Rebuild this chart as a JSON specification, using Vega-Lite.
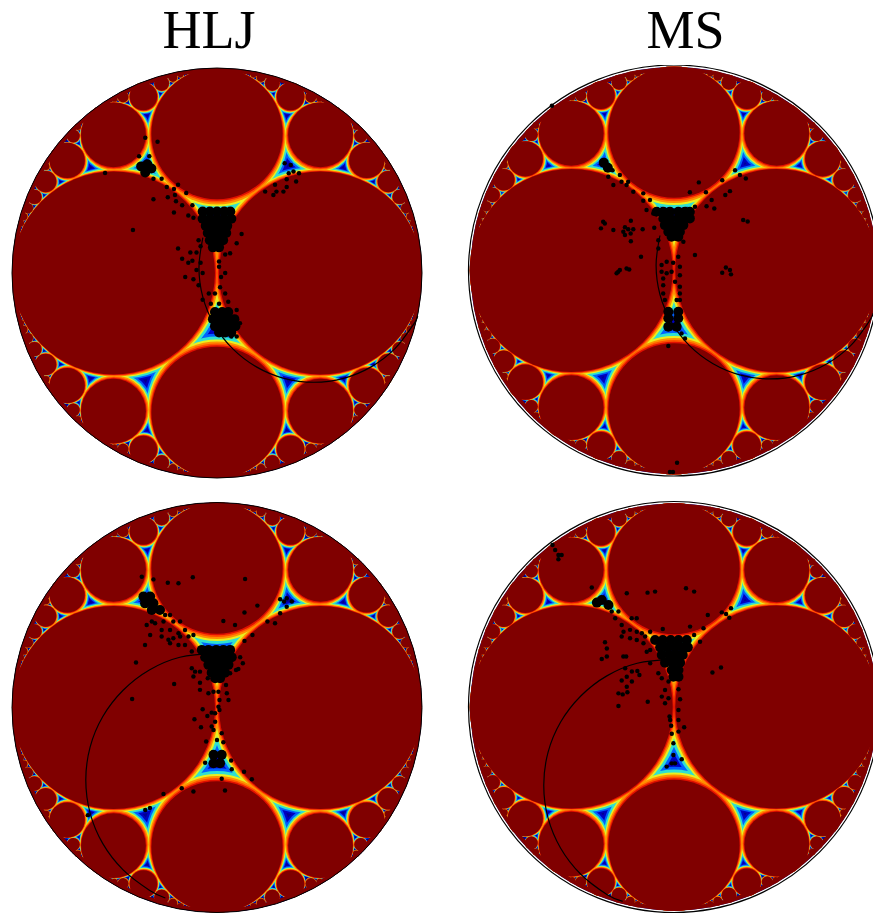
{"$schema":"https://vega.github.io/schema/vega-lite/v6.json","background":"white","padding":{"left":9,"top":5,"right":0,"bottom":0},"config":{"view":{"stroke":null}},"columns":2,"spacing":{"column":41,"row":18},
"datasets":{"c":[{"x":0,"y":0}],
"a1":[{"i":1,"x":-0.069,"y":0.172},{"i":2,"x":-0.088,"y":0.027},{"i":3,"x":-0.069,"y":-0.118},{"i":4,"x":-0.013,"y":-0.253},{"i":5,"x":0.076,"y":-0.369},{"i":6,"x":0.192,"y":-0.458},{"i":7,"x":0.327,"y":-0.514},{"i":8,"x":0.472,"y":-0.533},{"i":9,"x":0.617,"y":-0.514},{"i":10,"x":0.752,"y":-0.458},{"i":11,"x":0.868,"y":-0.369},{"i":12,"x":0.957,"y":-0.253},{"i":13,"x":0.979,"y":-0.21}],
"a3":[{"i":1,"x":0.002,"y":0.265},{"i":2,"x":-0.181,"y":0.245},{"i":3,"x":-0.33,"y":0.183},{"i":4,"x":-0.458,"y":0.084},{"i":5,"x":-0.557,"y":-0.044},{"i":6,"x":-0.619,"y":-0.193},{"i":7,"x":-0.64,"y":-0.354},{"i":8,"x":-0.619,"y":-0.515},{"i":9,"x":-0.557,"y":-0.664},{"i":10,"x":-0.458,"y":-0.792},{"i":11,"x":-0.33,"y":-0.891},{"i":12,"x":-0.252,"y":-0.929}],
"a4":[{"i":1,"x":0.002,"y":0.235},{"i":2,"x":-0.181,"y":0.215},{"i":3,"x":-0.33,"y":0.153},{"i":4,"x":-0.458,"y":0.054},{"i":5,"x":-0.557,"y":-0.074},{"i":6,"x":-0.619,"y":-0.223},{"i":7,"x":-0.64,"y":-0.384},{"i":8,"x":-0.619,"y":-0.545},{"i":9,"x":-0.557,"y":-0.694},{"i":10,"x":-0.458,"y":-0.822},{"i":11,"x":-0.33,"y":-0.921},{"i":12,"x":-0.252,"y":-0.955}],
"balls":[
{"b":1,"x":0.469,"y":0,"r":0.531},{"b":1,"x":-0.469,"y":0,"r":0.531},{"b":1,"x":0,"y":0.639,"r":0.361},{"b":1,"x":0,"y":-0.639,"r":0.361},
{"b":1,"x":0.489,"y":0.653,"r":0.184},{"b":1,"x":-0.489,"y":0.653,"r":0.184},{"b":1,"x":0.489,"y":-0.653,"r":0.184},{"b":1,"x":-0.489,"y":-0.653,"r":0.184},
{"b":1,"x":0.719,"y":0.539,"r":0.102},{"b":1,"x":-0.719,"y":0.539,"r":0.102},{"b":1,"x":0.719,"y":-0.539,"r":0.102},{"b":1,"x":-0.719,"y":-0.539,"r":0.102},
{"b":1,"x":0.354,"y":0.849,"r":0.08},{"b":1,"x":-0.354,"y":0.849,"r":0.08},{"b":1,"x":0.354,"y":-0.849,"r":0.08},{"b":1,"x":-0.354,"y":-0.849,"r":0.08},
{"b":2,"x":0.476,"y":0,"r":0.524},{"b":2,"x":-0.476,"y":0,"r":0.524},{"b":2,"x":0,"y":0.648,"r":0.352},{"b":2,"x":0,"y":-0.648,"r":0.352},
{"b":2,"x":0.493,"y":0.657,"r":0.179},{"b":2,"x":-0.493,"y":0.657,"r":0.179},{"b":2,"x":0.493,"y":-0.657,"r":0.179},{"b":2,"x":-0.493,"y":-0.657,"r":0.179},
{"b":2,"x":0.722,"y":0.541,"r":0.098},{"b":2,"x":-0.722,"y":0.541,"r":0.098},{"b":2,"x":0.722,"y":-0.541,"r":0.098},{"b":2,"x":-0.722,"y":-0.541,"r":0.098},
{"b":2,"x":0.355,"y":0.852,"r":0.077},{"b":2,"x":-0.355,"y":0.852,"r":0.077},{"b":2,"x":0.355,"y":-0.852,"r":0.077},{"b":2,"x":-0.355,"y":-0.852,"r":0.077},
{"b":2,"x":0.829,"y":0.442,"r":0.06},{"b":2,"x":-0.829,"y":0.442,"r":0.06},{"b":2,"x":0.829,"y":-0.442,"r":0.06},{"b":2,"x":-0.829,"y":-0.442,"r":0.06},
{"b":2,"x":0.268,"y":0.92,"r":0.042},{"b":2,"x":-0.268,"y":0.92,"r":0.042},{"b":2,"x":0.268,"y":-0.92,"r":0.042},{"b":2,"x":-0.268,"y":-0.92,"r":0.042},
{"b":2,"x":0.886,"y":0.369,"r":0.04},{"b":2,"x":-0.886,"y":0.369,"r":0.04},{"b":2,"x":0.886,"y":-0.369,"r":0.04},{"b":2,"x":-0.886,"y":-0.369,"r":0.04},
{"b":2,"x":0.698,"y":0.665,"r":0.036},{"b":2,"x":-0.698,"y":0.665,"r":0.036},{"b":2,"x":0.698,"y":-0.665,"r":0.036},{"b":2,"x":-0.698,"y":-0.665,"r":0.036},
{"b":3,"x":0.483,"y":0,"r":0.517},{"b":3,"x":-0.483,"y":0,"r":0.517},{"b":3,"x":0,"y":0.655,"r":0.345},{"b":3,"x":0,"y":-0.655,"r":0.345},
{"b":3,"x":0.496,"y":0.661,"r":0.174},{"b":3,"x":-0.496,"y":0.661,"r":0.174},{"b":3,"x":0.496,"y":-0.661,"r":0.174},{"b":3,"x":-0.496,"y":-0.661,"r":0.174},
{"b":3,"x":0.724,"y":0.543,"r":0.095},{"b":3,"x":-0.724,"y":0.543,"r":0.095},{"b":3,"x":0.724,"y":-0.543,"r":0.095},{"b":3,"x":-0.724,"y":-0.543,"r":0.095},
{"b":3,"x":0.356,"y":0.854,"r":0.075},{"b":3,"x":-0.356,"y":0.854,"r":0.075},{"b":3,"x":0.356,"y":-0.854,"r":0.075},{"b":3,"x":-0.356,"y":-0.854,"r":0.075},
{"b":3,"x":0.831,"y":0.443,"r":0.058},{"b":3,"x":-0.831,"y":0.443,"r":0.058},{"b":3,"x":0.831,"y":-0.443,"r":0.058},{"b":3,"x":-0.831,"y":-0.443,"r":0.058},
{"b":3,"x":0.269,"y":0.921,"r":0.04},{"b":3,"x":-0.269,"y":0.921,"r":0.04},{"b":3,"x":0.269,"y":-0.921,"r":0.04},{"b":3,"x":-0.269,"y":-0.921,"r":0.04},
{"b":3,"x":0.887,"y":0.37,"r":0.039},{"b":3,"x":-0.887,"y":0.37,"r":0.039},{"b":3,"x":0.887,"y":-0.37,"r":0.039},{"b":3,"x":-0.887,"y":-0.37,"r":0.039},
{"b":3,"x":0.699,"y":0.666,"r":0.035},{"b":3,"x":-0.699,"y":0.666,"r":0.035},{"b":3,"x":0.699,"y":-0.666,"r":0.035},{"b":3,"x":-0.699,"y":-0.666,"r":0.035},
{"b":4,"x":0.49,"y":0,"r":0.51},{"b":4,"x":-0.49,"y":0,"r":0.51},{"b":4,"x":0,"y":0.662,"r":0.338},{"b":4,"x":0,"y":-0.662,"r":0.338},
{"b":4,"x":0.498,"y":0.664,"r":0.17},{"b":4,"x":-0.498,"y":0.664,"r":0.17},{"b":4,"x":0.498,"y":-0.664,"r":0.17},{"b":4,"x":-0.498,"y":-0.664,"r":0.17},
{"b":4,"x":0.726,"y":0.544,"r":0.093},{"b":4,"x":-0.726,"y":0.544,"r":0.093},{"b":4,"x":0.726,"y":-0.544,"r":0.093},{"b":4,"x":-0.726,"y":-0.544,"r":0.093},
{"b":4,"x":0.357,"y":0.856,"r":0.073},{"b":4,"x":-0.357,"y":0.856,"r":0.073},{"b":4,"x":0.357,"y":-0.856,"r":0.073},{"b":4,"x":-0.357,"y":-0.856,"r":0.073},
{"b":5,"x":0.495,"y":0,"r":0.505},{"b":5,"x":-0.495,"y":0,"r":0.505},{"b":5,"x":0,"y":0.667,"r":0.333},{"b":5,"x":0,"y":-0.667,"r":0.333},
{"b":5,"x":0.5,"y":0.667,"r":0.167},{"b":5,"x":-0.5,"y":0.667,"r":0.167},{"b":5,"x":0.5,"y":-0.667,"r":0.167},{"b":5,"x":-0.5,"y":-0.667,"r":0.167},
{"b":5,"x":0.727,"y":0.545,"r":0.091},{"b":5,"x":-0.727,"y":0.545,"r":0.091},{"b":5,"x":0.727,"y":-0.545,"r":0.091},{"b":5,"x":-0.727,"y":-0.545,"r":0.091},
{"b":5,"x":0.357,"y":0.857,"r":0.071},{"b":5,"x":-0.357,"y":0.857,"r":0.071},{"b":5,"x":0.357,"y":-0.857,"r":0.071},{"b":5,"x":-0.357,"y":-0.857,"r":0.071},
{"b":5,"x":0.833,"y":0.444,"r":0.056},{"b":5,"x":-0.833,"y":0.444,"r":0.056},{"b":5,"x":0.833,"y":-0.444,"r":0.056},{"b":5,"x":-0.833,"y":-0.444,"r":0.056},
{"b":5,"x":0.269,"y":0.923,"r":0.038},{"b":5,"x":-0.269,"y":0.923,"r":0.038},{"b":5,"x":0.269,"y":-0.923,"r":0.038},{"b":5,"x":-0.269,"y":-0.923,"r":0.038},
{"b":5,"x":0.889,"y":0.37,"r":0.037},{"b":5,"x":-0.889,"y":0.37,"r":0.037},{"b":5,"x":0.889,"y":-0.37,"r":0.037},{"b":5,"x":-0.889,"y":-0.37,"r":0.037},
{"b":5,"x":0.7,"y":0.667,"r":0.033},{"b":5,"x":-0.7,"y":0.667,"r":0.033},{"b":5,"x":0.7,"y":-0.667,"r":0.033},{"b":5,"x":-0.7,"y":-0.667,"r":0.033},
{"b":5,"x":0.457,"y":0.857,"r":0.029},{"b":5,"x":-0.457,"y":0.857,"r":0.029},{"b":5,"x":0.457,"y":-0.857,"r":0.029},{"b":5,"x":-0.457,"y":-0.857,"r":0.029},
{"b":5,"x":0.921,"y":0.316,"r":0.026},{"b":5,"x":-0.921,"y":0.316,"r":0.026},{"b":5,"x":0.921,"y":-0.316,"r":0.026},{"b":5,"x":-0.921,"y":-0.316,"r":0.026},
{"b":5,"x":0.214,"y":0.952,"r":0.024},{"b":5,"x":-0.214,"y":0.952,"r":0.024},{"b":5,"x":0.214,"y":-0.952,"r":0.024},{"b":5,"x":-0.214,"y":-0.952,"r":0.024},
{"b":5,"x":0.941,"y":0.275,"r":0.02},{"b":5,"x":-0.941,"y":0.275,"r":0.02},{"b":5,"x":0.941,"y":-0.275,"r":0.02},{"b":5,"x":-0.941,"y":-0.275,"r":0.02},
{"b":5,"x":0.833,"y":0.519,"r":0.019},{"b":5,"x":-0.833,"y":0.519,"r":0.019},{"b":5,"x":0.833,"y":-0.519,"r":0.019},{"b":5,"x":-0.833,"y":-0.519,"r":0.019},
{"b":5,"x":0.678,"y":0.712,"r":0.017},{"b":5,"x":-0.678,"y":0.712,"r":0.017},{"b":5,"x":0.678,"y":-0.712,"r":0.017},{"b":5,"x":-0.678,"y":-0.712,"r":0.017},
{"b":5,"x":0.177,"y":0.968,"r":0.016},{"b":5,"x":-0.177,"y":0.968,"r":0.016},{"b":5,"x":0.177,"y":-0.968,"r":0.016},{"b":5,"x":-0.177,"y":-0.968,"r":0.016},
{"b":5,"x":0.5,"y":0.848,"r":0.015},{"b":5,"x":-0.5,"y":0.848,"r":0.015},{"b":5,"x":0.5,"y":-0.848,"r":0.015},{"b":5,"x":-0.5,"y":-0.848,"r":0.015},
{"b":5,"x":0.954,"y":0.242,"r":0.015},{"b":5,"x":-0.954,"y":0.242,"r":0.015},{"b":5,"x":0.954,"y":-0.242,"r":0.015},{"b":5,"x":-0.954,"y":-0.242,"r":0.015},
{"b":6,"x":0.499,"y":0,"r":0.501},{"b":6,"x":-0.499,"y":0,"r":0.501},{"b":6,"x":0,"y":0.672,"r":0.328},{"b":6,"x":0,"y":-0.672,"r":0.328},
{"b":6,"x":0.502,"y":0.669,"r":0.163},{"b":6,"x":-0.502,"y":0.669,"r":0.163},{"b":6,"x":0.502,"y":-0.669,"r":0.163},{"b":6,"x":-0.502,"y":-0.669,"r":0.163},
{"b":6,"x":0.729,"y":0.547,"r":0.089},{"b":6,"x":-0.729,"y":0.547,"r":0.089},{"b":6,"x":0.729,"y":-0.547,"r":0.089},{"b":6,"x":-0.729,"y":-0.547,"r":0.089},
{"b":6,"x":0.358,"y":0.859,"r":0.07},{"b":6,"x":-0.358,"y":0.859,"r":0.07},{"b":6,"x":0.358,"y":-0.859,"r":0.07},{"b":6,"x":-0.358,"y":-0.859,"r":0.07},
{"b":7,"x":0.502,"y":0,"r":0.498},{"b":7,"x":-0.502,"y":0,"r":0.498},{"b":7,"x":0,"y":0.676,"r":0.324},{"b":7,"x":0,"y":-0.676,"r":0.324},
{"b":7,"x":0.504,"y":0.672,"r":0.161},{"b":7,"x":-0.504,"y":0.672,"r":0.161},{"b":7,"x":0.504,"y":-0.672,"r":0.161},{"b":7,"x":-0.504,"y":-0.672,"r":0.161},
{"b":7,"x":0.73,"y":0.548,"r":0.087},{"b":7,"x":-0.73,"y":0.548,"r":0.087},{"b":7,"x":0.73,"y":-0.548,"r":0.087},{"b":7,"x":-0.73,"y":-0.548,"r":0.087},
{"b":7,"x":0.358,"y":0.86,"r":0.069},{"b":7,"x":-0.358,"y":0.86,"r":0.069},{"b":7,"x":0.358,"y":-0.86,"r":0.069},{"b":7,"x":-0.358,"y":-0.86,"r":0.069},
{"b":7,"x":0.835,"y":0.446,"r":0.053},{"b":7,"x":-0.835,"y":0.446,"r":0.053},{"b":7,"x":0.835,"y":-0.446,"r":0.053},{"b":7,"x":-0.835,"y":-0.446,"r":0.053},
{"b":7,"x":0.27,"y":0.925,"r":0.037},{"b":7,"x":-0.27,"y":0.925,"r":0.037},{"b":7,"x":0.27,"y":-0.925,"r":0.037},{"b":7,"x":-0.27,"y":-0.925,"r":0.037},
{"b":7,"x":0.89,"y":0.371,"r":0.036},{"b":7,"x":-0.89,"y":0.371,"r":0.036},{"b":7,"x":0.89,"y":-0.371,"r":0.036},{"b":7,"x":-0.89,"y":-0.371,"r":0.036},
{"b":7,"x":0.701,"y":0.668,"r":0.032},{"b":7,"x":-0.701,"y":0.668,"r":0.032},{"b":7,"x":0.701,"y":-0.668,"r":0.032},{"b":7,"x":-0.701,"y":-0.668,"r":0.032},
{"b":8,"x":0.505,"y":0,"r":0.495},{"b":8,"x":-0.505,"y":0,"r":0.495},{"b":8,"x":0,"y":0.68,"r":0.32},{"b":8,"x":0,"y":-0.68,"r":0.32},
{"b":8,"x":0.505,"y":0.674,"r":0.158},{"b":8,"x":-0.505,"y":0.674,"r":0.158},{"b":8,"x":0.505,"y":-0.674,"r":0.158},{"b":8,"x":-0.505,"y":-0.674,"r":0.158},
{"b":8,"x":0.731,"y":0.549,"r":0.086},{"b":8,"x":-0.731,"y":0.549,"r":0.086},{"b":8,"x":0.731,"y":-0.549,"r":0.086},{"b":8,"x":-0.731,"y":-0.549,"r":0.086},
{"b":8,"x":0.359,"y":0.861,"r":0.067},{"b":8,"x":-0.359,"y":0.861,"r":0.067},{"b":8,"x":0.359,"y":-0.861,"r":0.067},{"b":8,"x":-0.359,"y":-0.861,"r":0.067},
{"b":8,"x":0.836,"y":0.446,"r":0.052},{"b":8,"x":-0.836,"y":0.446,"r":0.052},{"b":8,"x":0.836,"y":-0.446,"r":0.052},{"b":8,"x":-0.836,"y":-0.446,"r":0.052},
{"b":8,"x":0.27,"y":0.925,"r":0.036},{"b":8,"x":-0.27,"y":0.925,"r":0.036},{"b":8,"x":0.27,"y":-0.925,"r":0.036},{"b":8,"x":-0.27,"y":-0.925,"r":0.036},
{"b":8,"x":0.891,"y":0.371,"r":0.035},{"b":8,"x":-0.891,"y":0.371,"r":0.035},{"b":8,"x":0.891,"y":-0.371,"r":0.035},{"b":8,"x":-0.891,"y":-0.371,"r":0.035},
{"b":8,"x":0.701,"y":0.668,"r":0.031},{"b":8,"x":-0.701,"y":0.668,"r":0.031},{"b":8,"x":0.701,"y":-0.668,"r":0.031},{"b":8,"x":-0.701,"y":-0.668,"r":0.031},
{"b":8,"x":0.458,"y":0.859,"r":0.027},{"b":8,"x":-0.458,"y":0.859,"r":0.027},{"b":8,"x":0.458,"y":-0.859,"r":0.027},{"b":8,"x":-0.458,"y":-0.859,"r":0.027},
{"b":8,"x":0.922,"y":0.316,"r":0.025},{"b":8,"x":-0.922,"y":0.316,"r":0.025},{"b":8,"x":0.922,"y":-0.316,"r":0.025},{"b":8,"x":-0.922,"y":-0.316,"r":0.025},
{"b":8,"x":0.215,"y":0.954,"r":0.022},{"b":8,"x":-0.215,"y":0.954,"r":0.022},{"b":8,"x":0.215,"y":-0.954,"r":0.022},{"b":8,"x":-0.215,"y":-0.954,"r":0.022},
{"b":8,"x":0.942,"y":0.275,"r":0.018},{"b":8,"x":-0.942,"y":0.275,"r":0.018},{"b":8,"x":0.942,"y":-0.275,"r":0.018},{"b":8,"x":-0.942,"y":-0.275,"r":0.018},
{"b":8,"x":0.834,"y":0.519,"r":0.017},{"b":8,"x":-0.834,"y":0.519,"r":0.017},{"b":8,"x":0.834,"y":-0.519,"r":0.017},{"b":8,"x":-0.834,"y":-0.519,"r":0.017},
{"b":8,"x":0.679,"y":0.713,"r":0.016},{"b":8,"x":-0.679,"y":0.713,"r":0.016},{"b":8,"x":0.679,"y":-0.713,"r":0.016},{"b":8,"x":-0.679,"y":-0.713,"r":0.016},
{"b":8,"x":0.178,"y":0.969,"r":0.015},{"b":8,"x":-0.178,"y":0.969,"r":0.015},{"b":8,"x":0.178,"y":-0.969,"r":0.015},{"b":8,"x":-0.178,"y":-0.969,"r":0.015},
{"b":8,"x":0.5,"y":0.849,"r":0.014},{"b":8,"x":-0.5,"y":0.849,"r":0.014},{"b":8,"x":0.5,"y":-0.849,"r":0.014},{"b":8,"x":-0.5,"y":-0.849,"r":0.014},
{"b":8,"x":0.955,"y":0.243,"r":0.014},{"b":8,"x":-0.955,"y":0.243,"r":0.014},{"b":8,"x":0.955,"y":-0.243,"r":0.014},{"b":8,"x":-0.955,"y":-0.243,"r":0.014}],
"g1":[{"x":-0.07,"y":0.3},{"x":-0.035,"y":0.3},{"x":0,"y":0.3},{"x":0.035,"y":0.3},{"x":0.065,"y":0.3},{"x":-0.07,"y":0.265},{"x":-0.035,"y":0.265},{"x":0,"y":0.265},{"x":0.035,"y":0.265},{"x":0.07,"y":0.265},{"x":-0.055,"y":0.23},{"x":-0.02,"y":0.23},{"x":0.015,"y":0.23},{"x":0.05,"y":0.23},{"x":-0.045,"y":0.195},{"x":-0.01,"y":0.195},{"x":0.025,"y":0.195},{"x":0.045,"y":0.195},{"x":-0.035,"y":0.16},{"x":0,"y":0.16},{"x":0.03,"y":0.16},{"x":-0.02,"y":0.125},{"x":0.01,"y":0.125},{"x":-0.01,"y":-0.19},{"x":0.025,"y":-0.19},{"x":0.055,"y":-0.19},{"x":-0.02,"y":-0.225},{"x":0.015,"y":-0.225},{"x":0.05,"y":-0.225},{"x":0.085,"y":-0.225},{"x":-0.01,"y":-0.26},{"x":0.025,"y":-0.26},{"x":0.06,"y":-0.26},{"x":0.09,"y":-0.26},{"x":0.01,"y":-0.29},{"x":0.04,"y":-0.29},{"x":0.07,"y":-0.29},{"x":-0.37,"y":0.52},{"x":-0.34,"y":0.53},{"x":-0.32,"y":0.51},{"x":-0.35,"y":0.49}],
"d1":[{"x":-0.09,"y":0.16},{"x":-0.08,"y":0.13},{"x":-0.1,"y":0.1},{"x":-0.13,"y":0.1},{"x":-0.12,"y":0.06},{"x":-0.08,"y":0.05},{"x":-0.14,"y":0.05},{"x":-0.1,"y":0.015},{"x":-0.07,"y":0},{"x":-0.115,"y":-0.03},{"x":-0.09,"y":-0.06},{"x":-0.04,"y":-0.1},{"x":-0.07,"y":-0.13},{"x":-0.03,"y":-0.15},{"x":0.01,"y":0.03},{"x":0.02,"y":-0.02},{"x":0.04,"y":0},{"x":0.015,"y":-0.07},{"x":0.04,"y":-0.1},{"x":-0.01,"y":-0.1},{"x":0.055,"y":-0.14},{"x":0.01,"y":-0.15},{"x":0.064,"y":0.096},{"x":0.04,"y":0.09},{"x":0.096,"y":0.145},{"x":0.12,"y":0.19},{"x":0.01,"y":0.056},{"x":0,"y":0.13},{"x":-0.27,"y":0.46},{"x":-0.245,"y":0.42},{"x":-0.21,"y":0.41},{"x":-0.31,"y":0.36},{"x":-0.24,"y":0.37},{"x":-0.205,"y":0.38},{"x":-0.19,"y":0.43},{"x":-0.15,"y":0.39},{"x":-0.2,"y":0.35},{"x":-0.17,"y":0.33},{"x":-0.21,"y":0.295},{"x":-0.14,"y":0.28},{"x":-0.12,"y":0.33},{"x":-0.115,"y":0.27},{"x":-0.19,"y":0.12},{"x":-0.17,"y":0.07},{"x":-0.155,"y":-0.02},{"x":-0.41,"y":0.21},{"x":-0.38,"y":0.57},{"x":-0.33,"y":0.57},{"x":-0.35,"y":0.66},{"x":-0.29,"y":0.64},{"x":-0.31,"y":0.46},{"x":0.33,"y":0.535},{"x":0.36,"y":0.527},{"x":0.373,"y":0.495},{"x":0.4,"y":0.487},{"x":0.35,"y":0.487},{"x":0.386,"y":0.446},{"x":0.34,"y":0.42},{"x":0.283,"y":0.43},{"x":0.324,"y":0.397},{"x":0.275,"y":0.38},{"x":0.235,"y":0.397},{"x":0.29,"y":0.397},{"x":0.34,"y":0.457},{"x":0.096,"y":-0.18},{"x":0.112,"y":-0.245},{"x":0.096,"y":-0.31},{"x":0.07,"y":-0.31},{"x":-0.546,"y":0.488}],
"g2":[{"x":-0.085,"y":0.289},{"x":-0.053,"y":0.289},{"x":-0.02,"y":0.289},{"x":0.021,"y":0.289},{"x":0.054,"y":0.289},{"x":0.078,"y":0.289},{"x":-0.053,"y":0.256},{"x":-0.02,"y":0.256},{"x":0.021,"y":0.256},{"x":0.054,"y":0.256},{"x":0.078,"y":0.256},{"x":-0.045,"y":0.223},{"x":-0.012,"y":0.223},{"x":0.021,"y":0.223},{"x":0.046,"y":0.223},{"x":-0.028,"y":0.19},{"x":0.005,"y":0.19},{"x":0.029,"y":0.19},{"x":-0.012,"y":0.166},{"x":0.021,"y":0.166},{"x":-0.028,"y":-0.203},{"x":0.021,"y":-0.203},{"x":-0.028,"y":-0.235},{"x":0.021,"y":-0.235},{"x":-0.028,"y":-0.276},{"x":0.013,"y":-0.276},{"x":-0.345,"y":0.53},{"x":-0.325,"y":0.505}],
"d2":[{"x":-0.151,"y":0.379},{"x":-0.2,"y":0.387},{"x":-0.233,"y":0.42},{"x":-0.258,"y":0.436},{"x":-0.225,"y":0.436},{"x":-0.266,"y":0.469},{"x":-0.302,"y":0.493},{"x":-0.323,"y":0.461},{"x":-0.298,"y":0.42},{"x":-0.151,"y":0.343},{"x":-0.118,"y":0.346},{"x":-0.135,"y":0.297},{"x":-0.102,"y":0.28},{"x":-0.077,"y":0.149},{"x":-0.077,"y":0.108},{"x":-0.061,"y":0.027},{"x":-0.061,"y":-0.006},{"x":-0.053,"y":-0.039},{"x":-0.053,"y":-0.072},{"x":-0.053,"y":-0.113},{"x":-0.045,"y":-0.145},{"x":-0.036,"y":-0.014},{"x":-0.012,"y":-0.006},{"x":0.005,"y":-0.055},{"x":0.029,"y":0.018},{"x":0.029,"y":-0.023},{"x":0.029,"y":-0.08},{"x":0.029,"y":-0.113},{"x":0.021,"y":0.068},{"x":0.046,"y":0.141},{"x":-0.036,"y":0.043},{"x":-0.004,"y":0.038},{"x":0.029,"y":-0.145},{"x":0.013,"y":-0.145},{"x":0.103,"y":0.076},{"x":-0.028,"y":-0.371},{"x":0.054,"y":-0.334},{"x":0.037,"y":-0.309},{"x":-0.162,"y":0.068},{"x":-0.348,"y":0.24},{"x":-0.34,"y":0.231},{"x":-0.359,"y":0.207},{"x":-0.298,"y":0.199},{"x":-0.212,"y":0.244},{"x":-0.241,"y":0.212},{"x":-0.225,"y":0.203},{"x":-0.249,"y":0.19},{"x":-0.2,"y":0.203},{"x":-0.154,"y":0.203},{"x":-0.213,"y":0.182},{"x":-0.241,"y":0.174},{"x":-0.212,"y":0.144},{"x":-0.097,"y":0.21},{"x":-0.282,"y":-0.014},{"x":-0.266,"y":0.002},{"x":-0.274,"y":-0.006},{"x":-0.233,"y":0.01},{"x":-0.22,"y":0.005},{"x":0.16,"y":0.316},{"x":0.185,"y":0.346},{"x":0.198,"y":0.305},{"x":0.103,"y":0.313},{"x":0.078,"y":0.384},{"x":0.157,"y":0.384},{"x":0.122,"y":0.433},{"x":0.252,"y":0.371},{"x":0.275,"y":0.39},{"x":0.237,"y":0.444},{"x":0.34,"y":0.248},{"x":0.362,"y":0.241},{"x":0.255,"y":0.015},{"x":0.275,"y":0.002},{"x":0.237,"y":-0.011},{"x":0.28,"y":-0.019},{"x":0.3,"y":0.493},{"x":0.324,"y":0.469},{"x":0.353,"y":0.452},{"x":-0.02,"y":-0.99},{"x":-0.005,"y":-0.99},{"x":0.015,"y":-0.945},{"x":-0.6,"y":0.81}],
"g3":[{"x":-0.074,"y":0.281},{"x":-0.042,"y":0.281},{"x":-0.004,"y":0.281},{"x":0.031,"y":0.281},{"x":0.064,"y":0.281},{"x":-0.058,"y":0.245},{"x":-0.021,"y":0.245},{"x":0.015,"y":0.245},{"x":0.048,"y":0.245},{"x":0.072,"y":0.245},{"x":-0.042,"y":0.208},{"x":-0.009,"y":0.208},{"x":0.023,"y":0.208},{"x":0.056,"y":0.208},{"x":-0.026,"y":0.17},{"x":0.007,"y":0.17},{"x":0.039,"y":0.17},{"x":-0.009,"y":0.143},{"x":0.015,"y":0.143},{"x":-0.017,"y":-0.231},{"x":0.023,"y":-0.231},{"x":-0.017,"y":-0.272},{"x":0.015,"y":-0.272},{"x":-0.359,"y":0.541},{"x":-0.326,"y":0.541},{"x":-0.351,"y":0.508},{"x":-0.31,"y":0.508},{"x":-0.318,"y":0.476},{"x":-0.278,"y":0.476}],
"d3":[{"x":-0.253,"y":0.451},{"x":-0.229,"y":0.451},{"x":-0.261,"y":0.419},{"x":-0.213,"y":0.419},{"x":-0.18,"y":0.419},{"x":-0.318,"y":0.419},{"x":-0.343,"y":0.403},{"x":-0.302,"y":0.411},{"x":-0.27,"y":0.378},{"x":-0.229,"y":0.378},{"x":-0.188,"y":0.362},{"x":-0.156,"y":0.378},{"x":-0.139,"y":0.346},{"x":-0.115,"y":0.354},{"x":-0.27,"y":0.346},{"x":-0.237,"y":0.33},{"x":-0.213,"y":0.338},{"x":-0.18,"y":0.346},{"x":-0.326,"y":0.354},{"x":-0.351,"y":0.305},{"x":-0.229,"y":0.313},{"x":-0.188,"y":0.305},{"x":-0.156,"y":0.305},{"x":-0.123,"y":0.273},{"x":-0.367,"y":0.638},{"x":-0.31,"y":0.625},{"x":-0.24,"y":0.609},{"x":-0.188,"y":0.606},{"x":-0.118,"y":0.635},{"x":0.137,"y":0.627},{"x":0.197,"y":0.497},{"x":0.134,"y":0.463},{"x":0.031,"y":0.422},{"x":0.088,"y":0.403},{"x":0.246,"y":0.419},{"x":0.283,"y":0.411},{"x":0.173,"y":0.354},{"x":0.134,"y":0.325},{"x":0.113,"y":0.245},{"x":0.126,"y":0.216},{"x":0.093,"y":0.183},{"x":0.104,"y":0.188},{"x":0.064,"y":0.167},{"x":0.308,"y":0.528},{"x":0.34,"y":0.533},{"x":0.365,"y":0.517},{"x":0.34,"y":0.492},{"x":0.308,"y":0.46},{"x":0.327,"y":0.517},{"x":-0.123,"y":0.191},{"x":-0.107,"y":0.175},{"x":-0.083,"y":0.175},{"x":-0.115,"y":0.151},{"x":-0.045,"y":0.143},{"x":-0.209,"y":0.115},{"x":-0.395,"y":0.219},{"x":-0.414,"y":0.042},{"x":-0.083,"y":0.121},{"x":-0.083,"y":0.086},{"x":-0.042,"y":0.069},{"x":-0.017,"y":0.077},{"x":0.007,"y":0.077},{"x":0.044,"y":0.11},{"x":0.048,"y":0.069},{"x":0.056,"y":0.037},{"x":0.012,"y":0.037},{"x":0.007,"y":0.004},{"x":0.012,"y":-0.012},{"x":-0.07,"y":-0.009},{"x":-0.026,"y":-0.025},{"x":-0.047,"y":-0.041},{"x":-0.009,"y":-0.028},{"x":-0.11,"y":-0.057},{"x":-0.009,"y":-0.069},{"x":-0.078,"y":-0.096},{"x":-0.026,"y":-0.093},{"x":-0.017,"y":-0.11},{"x":0.023,"y":-0.126},{"x":-0.053,"y":-0.166},{"x":0.031,"y":-0.17},{"x":0,"y":-0.158},{"x":-0.058,"y":-0.269},{"x":0.069,"y":-0.259},{"x":0.072,"y":-0.301},{"x":0.132,"y":-0.313},{"x":0.023,"y":-0.348},{"x":0.17,"y":-0.35},{"x":-0.172,"y":-0.394},{"x":-0.261,"y":-0.422},{"x":-0.115,"y":-0.41},{"x":0.039,"y":-0.405},{"x":-0.327,"y":-0.49},{"x":-0.35,"y":-0.5},{"x":-0.63,"y":-0.525}],
"g4":[{"x":-0.093,"y":0.329},{"x":-0.055,"y":0.329},{"x":-0.016,"y":0.329},{"x":0.022,"y":0.329},{"x":0.063,"y":0.329},{"x":-0.068,"y":0.293},{"x":-0.032,"y":0.293},{"x":0.005,"y":0.293},{"x":0.043,"y":0.293},{"x":0.068,"y":0.293},{"x":-0.06,"y":0.256},{"x":-0.022,"y":0.256},{"x":0.014,"y":0.256},{"x":0.043,"y":0.256},{"x":-0.044,"y":0.218},{"x":-0.006,"y":0.218},{"x":0.03,"y":0.218},{"x":-0.011,"y":0.182},{"x":0.022,"y":0.182},{"x":-0.003,"y":0.149},{"x":0.022,"y":0.149},{"x":-0.355,"y":0.526},{"x":-0.322,"y":0.501},{"x":-0.379,"y":0.513}],
"d4":[{"x":-0.003,"y":-0.236},{"x":-0.011,"y":-0.277},{"x":0.038,"y":-0.257},{"x":-0.036,"y":-0.293},{"x":0.005,"y":-0.277},{"x":-0.306,"y":0.469},{"x":-0.273,"y":0.469},{"x":-0.289,"y":0.436},{"x":-0.257,"y":0.403},{"x":-0.208,"y":0.436},{"x":-0.183,"y":0.436},{"x":-0.248,"y":0.37},{"x":-0.216,"y":0.379},{"x":-0.257,"y":0.346},{"x":-0.183,"y":0.37},{"x":-0.158,"y":0.362},{"x":-0.183,"y":0.329},{"x":-0.15,"y":0.313},{"x":-0.142,"y":0.346},{"x":-0.216,"y":0.338},{"x":-0.117,"y":0.37},{"x":-0.134,"y":0.272},{"x":-0.117,"y":0.28},{"x":-0.404,"y":0.587},{"x":-0.232,"y":0.559},{"x":-0.13,"y":0.562},{"x":-0.093,"y":0.567},{"x":0.059,"y":0.583},{"x":0.099,"y":0.567},{"x":0.166,"y":0.452},{"x":0.235,"y":0.465},{"x":0.256,"y":0.457},{"x":0.272,"y":0.439},{"x":0.28,"y":0.485},{"x":0.145,"y":0.387},{"x":0.079,"y":0.395},{"x":-0.055,"y":0.383},{"x":0.099,"y":0.354},{"x":0.128,"y":0.321},{"x":0.231,"y":0.194},{"x":0.189,"y":0.169},{"x":-0.339,"y":0.318},{"x":-0.33,"y":0.288},{"x":-0.355,"y":0.236},{"x":-0.33,"y":0.248},{"x":-0.249,"y":0.248},{"x":-0.235,"y":0.248},{"x":-0.117,"y":0.215},{"x":-0.24,"y":0.19},{"x":-0.207,"y":0.174},{"x":-0.18,"y":0.177},{"x":-0.17,"y":0.157},{"x":-0.232,"y":0.149},{"x":-0.257,"y":0.13},{"x":-0.207,"y":0.125},{"x":-0.232,"y":0.1},{"x":-0.273,"y":0.067},{"x":-0.252,"y":0.062},{"x":-0.229,"y":0.072},{"x":-0.273,"y":0.005},{"x":-0.129,"y":0.026},{"x":-0.077,"y":0.166},{"x":-0.06,"y":0.141},{"x":-0.027,"y":0.125},{"x":-0.044,"y":0.084},{"x":-0.06,"y":0.051},{"x":-0.027,"y":0.043},{"x":-0.044,"y":0.018},{"x":0.022,"y":0.087},{"x":0.03,"y":0.038},{"x":0.022,"y":-0.015},{"x":-0.022,"y":-0.047},{"x":-0.019,"y":-0.064},{"x":0.022,"y":-0.064},{"x":-0.011,"y":-0.132},{"x":-0.014,"y":-0.092},{"x":0.05,"y":-0.1},{"x":0.022,"y":-0.121},{"x":-0.003,"y":-0.178},{"x":-0.597,"y":0.796},{"x":-0.584,"y":0.772},{"x":-0.568,"y":0.747},{"x":-0.552,"y":0.747},{"x":-0.568,"y":0.726}]},
"concat":[
{"width":416,"height":416,"title":{"text":"HLJ","font":"Liberation Serif","fontSize":54,"fontWeight":"normal","color":"black","anchor":"middle","baseline":"alphabetic","dx":-8,"offset":-37},
"encoding":{"x":{"field":"x","type":"quantitative","scale":{"domain":[-1.0146,1.0146]},"axis":null},"y":{"field":"y","type":"quantitative","scale":{"domain":[-1.0146,1.0146]},"axis":null}},
"layer":[
{"data":{"name":"c"},"mark":{"type":"point","filled":true,"opacity":1,"color":"#000090","size":168100,"clip":true}},
{"data":{"name":"balls"},"mark":{"type":"point","filled":true,"opacity":1,"clip":true},"encoding":{"size":{"field":"r","type":"quantitative","scale":{"type":"pow","exponent":2,"domain":[0,1],"range":[0,168100]},"legend":null},"color":{"field":"b","type":"ordinal","scale":{"domain":[1,2,3,4,5,6,7,8],"range":["#0000c0","#0060ff","#30e0d0","#e8f020","#ff9000","#ff5000","#e01000","#800000"]},"legend":null}}},
{"data":{"name":"c"},"mark":{"type":"point","filled":false,"opacity":1,"color":"#800000","strokeWidth":4,"size":164836,"clip":true}},
{"data":{"name":"a1"},"mark":{"type":"line","color":"black","strokeWidth":1.2,"interpolate":"cardinal","clip":true},"encoding":{"order":{"field":"i","type":"quantitative"}}},
{"data":{"name":"d1"},"mark":{"type":"point","filled":true,"opacity":1,"color":"black","size":20,"clip":true}},
{"data":{"name":"g1"},"mark":{"type":"point","filled":true,"opacity":1,"color":"black","size":100,"clip":true}},
{"data":{"name":"c"},"mark":{"type":"point","filled":false,"opacity":1,"color":"black","strokeWidth":1,"size":168100,"clip":true}}]},
{"width":407,"height":416,"title":{"text":"MS","font":"Liberation Serif","fontSize":54,"fontWeight":"normal","color":"black","anchor":"middle","baseline":"alphabetic","dx":16,"offset":-37},
"encoding":{"x":{"field":"x","type":"quantitative","scale":{"domain":[-1.0221,0.9779]},"axis":null},"y":{"field":"y","type":"quantitative","scale":{"domain":[-1.0344,1.0098]},"axis":null}},
"layer":[
{"data":{"name":"c"},"mark":{"type":"point","filled":true,"opacity":1,"color":"#000090","size":165649,"clip":true}},
{"data":{"name":"balls"},"mark":{"type":"point","filled":true,"opacity":1,"clip":true},"encoding":{"size":{"field":"r","type":"quantitative","scale":{"type":"pow","exponent":2,"domain":[0,1],"range":[0,165649]},"legend":null},"color":{"field":"b","type":"ordinal","scale":{"domain":[1,2,3,4,5,6,7,8],"range":["#0000c0","#0060ff","#30e0d0","#e8f020","#ff9000","#ff5000","#e01000","#800000"]},"legend":null}}},
{"data":{"name":"c"},"mark":{"type":"point","filled":false,"opacity":1,"color":"#800000","strokeWidth":4,"size":162409,"clip":true}},
{"data":{"name":"a1"},"mark":{"type":"line","color":"black","strokeWidth":1.2,"interpolate":"cardinal","clip":true},"encoding":{"order":{"field":"i","type":"quantitative"}}},
{"data":{"name":"d2"},"mark":{"type":"point","filled":true,"opacity":1,"color":"black","size":20,"clip":true}},
{"data":{"name":"g2"},"mark":{"type":"point","filled":true,"opacity":1,"color":"black","size":100,"clip":true}},
{"data":{"name":"c"},"mark":{"type":"point","filled":false,"opacity":1,"color":"black","strokeWidth":1.2,"size":168921,"clip":true}}]},
{"width":416,"height":415,
"encoding":{"x":{"field":"x","type":"quantitative","scale":{"domain":[-1.0146,1.0146]},"axis":null},"y":{"field":"y","type":"quantitative","scale":{"domain":[-1.0073,1.0171]},"axis":null}},
"layer":[
{"data":{"name":"c"},"mark":{"type":"point","filled":true,"opacity":1,"color":"#000090","size":168100,"clip":true}},
{"data":{"name":"balls"},"mark":{"type":"point","filled":true,"opacity":1,"clip":true},"encoding":{"size":{"field":"r","type":"quantitative","scale":{"type":"pow","exponent":2,"domain":[0,1],"range":[0,168100]},"legend":null},"color":{"field":"b","type":"ordinal","scale":{"domain":[1,2,3,4,5,6,7,8],"range":["#0000c0","#0060ff","#30e0d0","#e8f020","#ff9000","#ff5000","#e01000","#800000"]},"legend":null}}},
{"data":{"name":"c"},"mark":{"type":"point","filled":false,"opacity":1,"color":"#800000","strokeWidth":4,"size":164836,"clip":true}},
{"data":{"name":"a3"},"mark":{"type":"line","color":"black","strokeWidth":1.2,"interpolate":"cardinal","clip":true},"encoding":{"order":{"field":"i","type":"quantitative"}}},
{"data":{"name":"d3"},"mark":{"type":"point","filled":true,"opacity":1,"color":"black","size":20,"clip":true}},
{"data":{"name":"g3"},"mark":{"type":"point","filled":true,"opacity":1,"color":"black","size":100,"clip":true}},
{"data":{"name":"c"},"mark":{"type":"point","filled":false,"opacity":1,"color":"black","strokeWidth":1,"size":168100,"clip":true}}]},
{"width":407,"height":415,
"encoding":{"x":{"field":"x","type":"quantitative","scale":{"domain":[-1.0221,0.9779]},"axis":null},"y":{"field":"y","type":"quantitative","scale":{"domain":[-1.0172,1.0221]},"axis":null}},
"layer":[
{"data":{"name":"c"},"mark":{"type":"point","filled":true,"opacity":1,"color":"#000090","size":165649,"clip":true}},
{"data":{"name":"balls"},"mark":{"type":"point","filled":true,"opacity":1,"clip":true},"encoding":{"size":{"field":"r","type":"quantitative","scale":{"type":"pow","exponent":2,"domain":[0,1],"range":[0,165649]},"legend":null},"color":{"field":"b","type":"ordinal","scale":{"domain":[1,2,3,4,5,6,7,8],"range":["#0000c0","#0060ff","#30e0d0","#e8f020","#ff9000","#ff5000","#e01000","#800000"]},"legend":null}}},
{"data":{"name":"c"},"mark":{"type":"point","filled":false,"opacity":1,"color":"#800000","strokeWidth":4,"size":162409,"clip":true}},
{"data":{"name":"a4"},"mark":{"type":"line","color":"black","strokeWidth":1.2,"interpolate":"cardinal","clip":true},"encoding":{"order":{"field":"i","type":"quantitative"}}},
{"data":{"name":"d4"},"mark":{"type":"point","filled":true,"opacity":1,"color":"black","size":20,"clip":true}},
{"data":{"name":"g4"},"mark":{"type":"point","filled":true,"opacity":1,"color":"black","size":100,"clip":true}},
{"data":{"name":"c"},"mark":{"type":"point","filled":false,"opacity":1,"color":"black","strokeWidth":1.2,"size":168921,"clip":true}}]}
]}
